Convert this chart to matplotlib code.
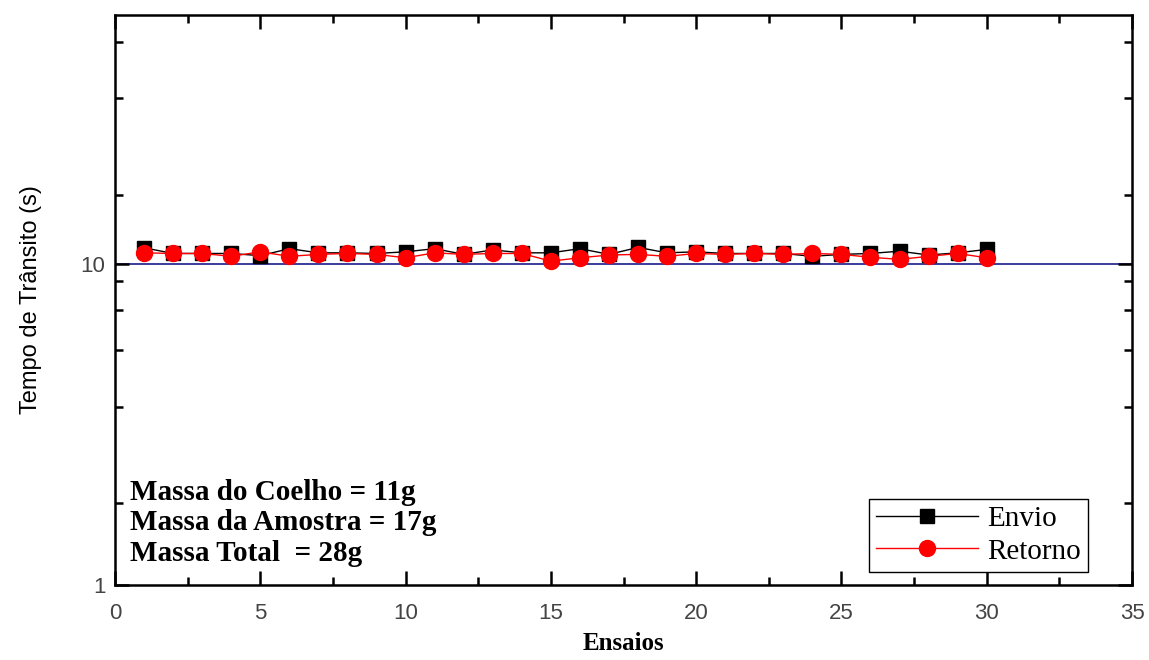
# -*- coding: utf-8 -*-
# Tempo de transito por ensaio (envio / retorno)

import numpy as np
import matplotlib
matplotlib.use('Agg')
import matplotlib.pyplot as plt
from matplotlib.ticker import FixedLocator, NullFormatter, MultipleLocator

# Data
ensaios = list(range(1, 31))
envio = [11.27, 10.82, 10.82, 10.82, 10.65, 11.2, 10.87, 10.87, 10.82, 10.95,
         11.2, 10.75, 11.1, 10.87, 10.87, 11.2, 10.75, 11.3, 10.87, 10.95,
         10.82, 10.82, 10.82, 10.6, 10.75, 10.82, 11.0, 10.7, 10.87, 11.14]
retorno = [10.87, 10.82, 10.82, 10.6, 10.95, 10.6, 10.75, 10.82, 10.75, 10.49,
           10.87, 10.75, 10.82, 10.82, 10.24, 10.49, 10.7, 10.75, 10.6, 10.82,
           10.75, 10.82, 10.75, 10.82, 10.75, 10.53, 10.37, 10.6, 10.82, 10.49]
ref_level = 10
y_major = [1, 10]
y_minor = [1.8, 3.6, 5.4, 7.2, 8.9, 16.5, 33, 49.5]
info_lines = ['Massa do Coelho = 11g', 'Massa da Amostra = 17g', 'Massa Total  = 28g']

serif = ['Liberation Serif', 'DejaVu Serif']
sans = ['Liberation Sans', 'DejaVu Sans']

fig = plt.figure(figsize=(11.49, 6.6), dpi=100)
ax = fig.add_axes([0.1001, 0.1136, 0.8851, 0.8637])

# reference line at 10 s
ax.axhline(ref_level, color='#1a1a8c', linewidth=1.2, zorder=1)

ax.plot(ensaios, envio, color='black', linewidth=1.0, marker='s', markersize=10.5,
        markerfacecolor='black', markeredgecolor='black', label='Envio', zorder=3)
ax.plot(ensaios, retorno, color='red', linewidth=1.0, marker='o', markersize=11.5,
        markerfacecolor='red', markeredgecolor='red', label='Retorno', zorder=4)

ax.set_yscale('log')
ax.set_xlim(0, 35)
ax.set_ylim(1, 60)

ax.xaxis.set_major_locator(MultipleLocator(5))
ax.xaxis.set_minor_locator(MultipleLocator(2.5))
ax.yaxis.set_major_locator(FixedLocator(y_major))
ax.yaxis.set_minor_locator(FixedLocator(y_minor))
ax.yaxis.set_minor_formatter(NullFormatter())
ax.set_yticklabels([str(v) for v in y_major])

ax.tick_params(which='both', direction='in', top=True, right=True, width=1.8)
ax.tick_params(which='major', length=10, labelsize=16, labelcolor='#444444')
ax.tick_params(axis='x', which='major', pad=13)
ax.tick_params(axis='y', which='major', pad=7)
ax.tick_params(which='minor', length=6)
for lab in ax.get_xticklabels() + ax.get_yticklabels():
    lab.set_family(sans)

for sp in ax.spines.values():
    sp.set_linewidth(1.8)

ax.set_xlabel('Ensaios', family=serif, fontsize=18, fontweight='bold', labelpad=6)
ax.set_ylabel('Tempo de Trânsito (s)', family=sans, fontsize=17, labelpad=28)

# sample information
y_pos = [0.163, 0.109, 0.056]
for txt, yy in zip(info_lines, y_pos):
    ax.text(0.0147, yy, txt, transform=ax.transAxes, va='center', ha='left',
            family=serif, fontsize=21, fontweight='bold')

leg = ax.legend(loc='lower right', bbox_to_anchor=(0.957, 0.023), borderaxespad=0,
                fancybox=False, framealpha=1, edgecolor='black', handlelength=3.5,
                numpoints=1, labelspacing=0.2, borderpad=0.25, handletextpad=0.3,
                prop={'family': serif, 'size': 21})
leg.get_frame().set_linewidth(1.0)

plt.savefig('out.png', dpi=100)
plt.close()
